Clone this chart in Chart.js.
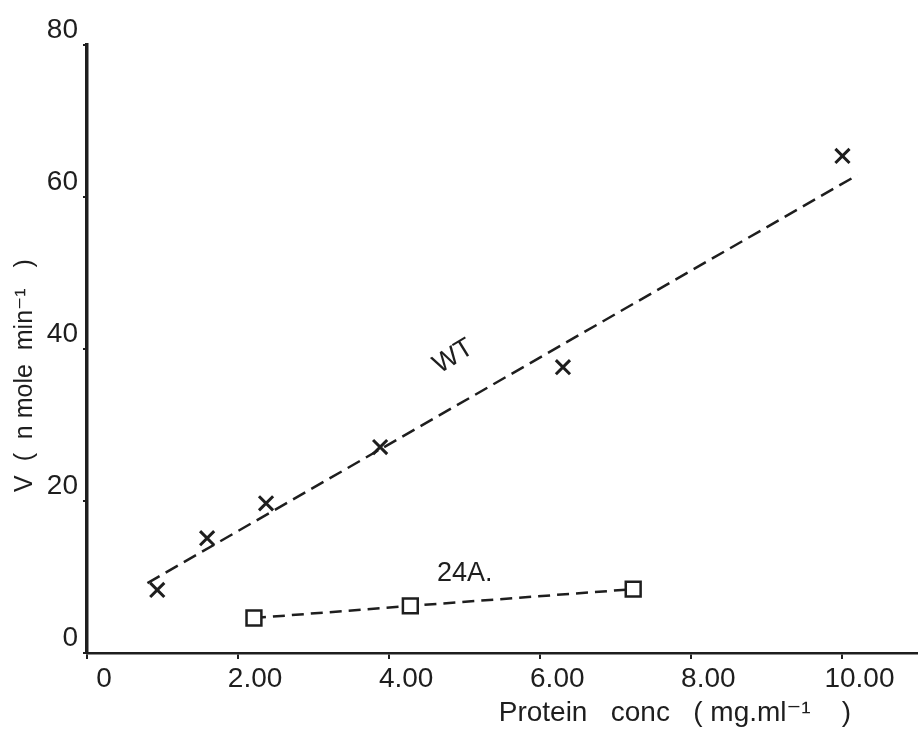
<!DOCTYPE html>
<html>

<head>
    <meta charset="utf-8">
    <script src="https://cdn.jsdelivr.net/npm/chart.js@4/dist/chart.umd.min.js"></script>
    <style>
        body { margin: 0; background: #fff; }
    </style>
</head>

<body>
    <div style="width: 918px; height: 731px;">
        <canvas id="wykres" width="918" height="731"></canvas>
    </div>
    <script>
        // WT - crosses
        const wtX = [0.93, 1.59, 2.37, 3.88, 6.30, 10.0];
        const wtY = [8.3, 15.1, 19.7, 27.1, 37.6, 65.4];
        // hand drawn WT line, both ends
        const wtLiniaX = [0.8, 10.2];
        const wtLiniaY = [9.2, 62.9];
        // 24A - squares
        const a24X = [2.21, 4.28, 7.23];
        const a24Y = [4.6, 6.2, 8.4];

        const xTicks = [0, 2, 4, 6, 8, 10];
        const yTicks = [0, 20, 40, 60, 80];

        const punkty = (xs, ys) => xs.map((x, i) => ({ x: x, y: ys[i] }));
        const czcionka = '"Liberation Sans", "DejaVu Sans", sans-serif';
        const kolor = "#1e1e1e";

        const dane = {
            datasets: [
                {
                    label: "WT linia",
                    data: punkty(wtLiniaX, wtLiniaY),
                    showLine: true,
                    borderColor: kolor,
                    borderWidth: 2.5,
                    borderDash: [14, 7],
                    pointRadius: 0,
                },
                {
                    label: "WT",
                    data: punkty(wtX, wtY),
                    pointStyle: "crossRot",
                    pointRadius: 10,
                    borderColor: kolor,
                    borderWidth: 3,
                },
                {
                    label: "24A",
                    data: punkty(a24X, a24Y),
                    showLine: true,
                    borderColor: kolor,
                    borderWidth: 2.5,
                    borderDash: [12, 7],
                    pointStyle: "rect",
                    pointRadius: 10.5,
                    pointBorderWidth: 2.5,
                    pointBackgroundColor: "#fff",
                }
            ]
        }

        // free text: curve labels and axis titles
        const podpisy = {
            id: "podpisy",
            afterDraw(chart) {
                const c = chart.ctx;
                const sx = chart.scales.x, sy = chart.scales.y;
                c.save();
                c.fillStyle = kolor;
                c.textAlign = "center";
                c.textBaseline = "middle";

                c.save();
                c.translate(sx.getPixelForValue(4.85), sy.getPixelForValue(39.0));
                c.rotate(-0.55);
                c.font = "27px " + czcionka;
                c.fillText("WT", 0, 0);
                c.restore();

                c.font = "27px " + czcionka;
                c.fillText("24A.", sx.getPixelForValue(5.0), sy.getPixelForValue(10.5));

                c.save();
                c.translate(25, sy.getPixelForValue(36.5));
                c.rotate(-Math.PI / 2);
                c.font = "25px " + czcionka;
                c.fillText("V  (  n mole  min\u207B\u00B9   )", 0, 0);
                c.restore();

                c.textAlign = "left";
                c.font = "28px " + czcionka;
                c.fillText("Protein   conc   ( mg.ml\u207B\u00B9    )", sx.getPixelForValue(5.45), chart.chartArea.bottom + 60);
                c.restore();
            }
        };

        const ctx = document.getElementById("wykres").getContext("2d");
        const wykres = new Chart(ctx, {
            type: "scatter",
            data: dane,
            plugins: [podpisy],
            options: {
                responsive: false,
                animation: false,
                layout: { padding: { top: 45, right: 0, left: 0, bottom: 0 }, autoPadding: false },
                plugins: { legend: { display: false }, tooltip: { enabled: false } },
                scales: {
                    x: {
                        type: "linear",
                        min: 0,
                        max: 11,
                        afterFit: s => { s.height = 78; },
                        afterBuildTicks: s => { s.ticks = xTicks.map(v => ({ value: v })); },
                        border: { color: kolor, width: 2.5 },
                        grid: { drawOnChartArea: false, tickLength: 6, color: kolor, lineWidth: 2 },
                        ticks: {
                            color: kolor,
                            font: { family: czcionka, size: 28 },
                            padding: 3,
                            labelOffset: 17,
                            maxRotation: 0,
                            callback: v => v === 0 ? "0" : v.toFixed(2),
                        },
                    },
                    y: {
                        type: "linear",
                        min: 0,
                        max: 80,
                        afterFit: s => { s.width = 87; },
                        afterBuildTicks: s => { s.ticks = yTicks.map(v => ({ value: v })); },
                        border: { color: kolor, width: 3.5 },
                        grid: { drawOnChartArea: false, tickLength: 4, color: kolor, lineWidth: 2 },
                        ticks: {
                            color: kolor,
                            font: { family: czcionka, size: 28 },
                            padding: 5,
                            labelOffset: -15,
                        },
                    }
                }
            }
        });
    </script>
</body>

</html>
